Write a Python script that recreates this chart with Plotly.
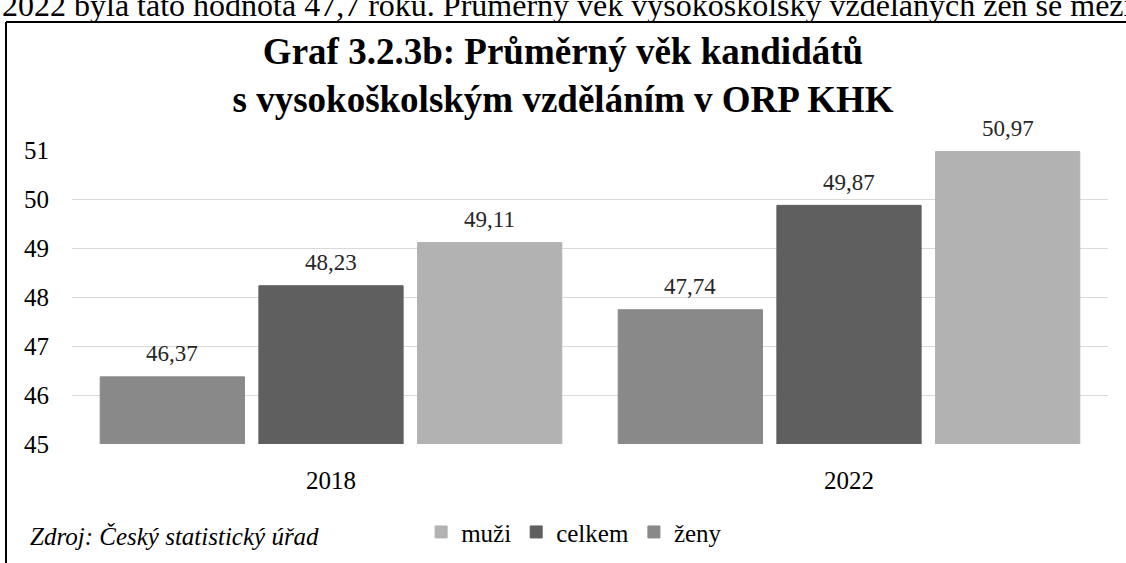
import plotly.graph_objects as go

categories = ["2018", "2022"]
zeny = [46.37, 47.74]
celkem = [48.23, 49.87]
muzi = [49.11, 50.97]
series_names = ["ženy", "celkem", "muži"]
colors = ["#898989", "#5f5f5f", "#b2b2b2"]
y_ticks = [45, 46, 47, 48, 49, 50, 51]

SERIF = "Liberation Serif, Times New Roman, serif"
W, H = 1126, 563
ML, MR, MT, MB = 72, 18, 150, 119
BARGAP, GROUPGAP = 0.081, 0.091

def fmt(v):
    return f"{v:.2f}".replace(".", ",")

fig = go.Figure()
all_series = [zeny, celkem, muzi]
for name, vals, col in zip(series_names, all_series, colors):
    fig.add_trace(go.Bar(
        x=categories, y=vals, name=name,
        marker=dict(color=col, line=dict(color=col, width=1)),
        hoverinfo="x+y+name",
    ))

# value labels above bars (positioned via the category axis index, shifted per group slot)
plot_w = W - ML - MR
slot = (1 - BARGAP) * (plot_w / len(categories)) / len(all_series)
for i, vals in enumerate(all_series):
    for ci, v in enumerate(vals):
        fig.add_annotation(x=ci, y=v, xref="x", yref="y", text=fmt(v), showarrow=False,
                           xshift=(i - 1) * slot, yshift=23, yanchor="middle",
                           font=dict(family=SERIF, size=23, color="#262626"))

fig.update_layout(
    width=W, height=H,
    margin=dict(l=ML, r=MR, t=MT, b=MB, autoexpand=False),
    paper_bgcolor="white", plot_bgcolor="white",
    barmode="group", bargap=BARGAP, bargroupgap=GROUPGAP,
    font=dict(family=SERIF, color="#000000"),
    showlegend=True,
    legend=dict(orientation="h", traceorder="reversed", x=0.337, y=-0.30,
                xanchor="left", yanchor="middle",
                font=dict(family=SERIF, size=25, color="#000000"),
                itemwidth=30, tracegroupgap=0, bgcolor="rgba(0,0,0,0)"),
    title=dict(text="<b>Graf 3.2.3b: Průměrný věk kandidátů<br>s vysokoškolským vzděláním v ORP KHK</b>",
               x=0.5, xanchor="center", y=0.886, yanchor="middle",
               font=dict(family=SERIF, size=37, color="#000000")),
    xaxis=dict(type="category", range=[-0.5, len(categories) - 0.5], showline=False, ticks="",
               tickfont=dict(size=25, family=SERIF, color="#000000"),
               ticklabelstandoff=19),
    yaxis=dict(range=[45, 51], tickvals=y_ticks, showgrid=True, gridcolor="#d9d9d9",
               gridwidth=1, zeroline=False, showline=False, ticks="",
               tickfont=dict(size=25, family=SERIF, color="#000000"), ticklabelstandoff=22),
)

# document frame around the chart
fig.add_shape(type="line", xref="paper", yref="paper", x0=-0.0637, x1=1.05, y0=1.435, y1=1.435,
              line=dict(color="#000000", width=2))
fig.add_shape(type="line", xref="paper", yref="paper", x0=-0.0637, x1=-0.0637, y0=1.435, y1=-0.45,
              line=dict(color="#000000", width=2))

fig.add_annotation(text="2022 byla tato hodnota 47,7 roku. Průměrný věk vysokoškolsky vzdělaných žen se mezi",
                   xref="paper", yref="paper", x=-0.0695, y=1.493, xanchor="left", yanchor="middle",
                   showarrow=False, font=dict(family=SERIF, size=32, color="#000000"))
fig.add_annotation(text="<i>Zdroj: Český statistický úřad</i>",
                   xref="paper", yref="paper", x=-0.0425, y=-0.316, xanchor="left", yanchor="middle",
                   showarrow=False, font=dict(family=SERIF, size=25, color="#000000"))

fig.write_html("out.html", config={"displayModeBar": False},
               post_script="document.body.style.margin='0';")
